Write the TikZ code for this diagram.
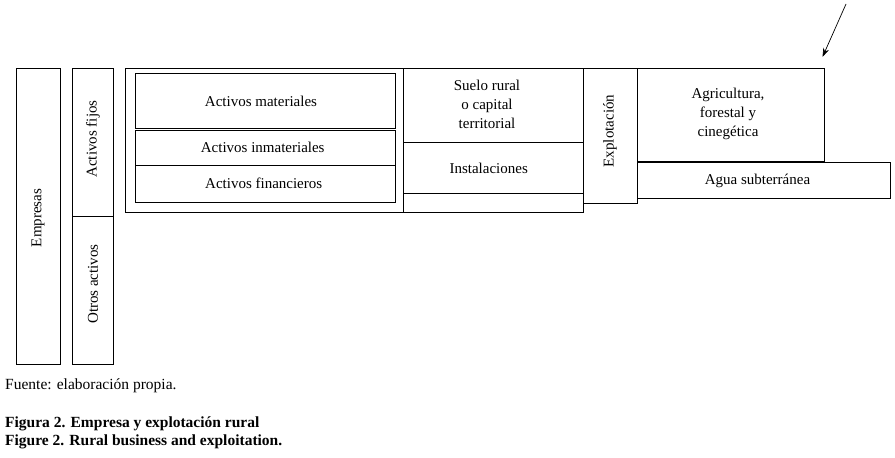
\documentclass[tikz,border=0pt]{standalone}
\usepackage{fontspec}
\setmainfont{Liberation Serif}
\usetikzlibrary{arrows.meta}
\begin{document}
\begin{tikzpicture}[x=1pt,y=-1pt,
  box/.style={draw=black, line width=0.9pt, inner sep=0pt, outer sep=0pt},
  txt/.style={inner sep=0pt, font=\fontsize{15}{19}\selectfont, align=center},
  vtxt/.style={txt, rotate=90},
  captxt/.style={inner sep=0pt, anchor=west, font=\fontsize{15.5}{18}\selectfont},
  capbold/.style={captxt, font=\fontsize{15.5}{18}\selectfont\bfseries}]
\useasboundingbox (0,0) rectangle (895,458);
% boxes
\node[box, minimum width=44.7, minimum height=296] (emp) at (38.3,216) {};
\node[box, minimum width=41, minimum height=148] (fijos) at (92.5,142) {};
\node[box, minimum width=41, minimum height=148] (otros) at (92.5,290) {};
\node[box, minimum width=458, minimum height=144.5] (outer) at (354,140.25) {};
\node[box, minimum width=260, minimum height=55] (mat) at (265,100.8) {};
\node[box, minimum width=260, minimum height=35.3] (inm) at (265,147.7) {};
\node[box, minimum width=260, minimum height=37] (fin) at (265,183.8) {};
\node[box, minimum width=180, minimum height=74] (suelo) at (493,105) {};
\node[box, minimum width=180, minimum height=51.3] (inst) at (493,167.7) {};
\node[box, minimum width=180, minimum height=19.2] (blank) at (493,202.9) {};
\node[box, minimum width=54.3, minimum height=135.3] (explot) at (610.2,135.7) {};
\node[box, minimum width=187, minimum height=93.7] (agri) at (730.8,114.8) {};
\node[box, minimum width=253, minimum height=35.7] (agua) at (763.8,180.2) {};
% labels
\node[vtxt] (tEmp) at (38,218) {Empresas};
\node[vtxt] (tFijos) at (93,139) {Activos fijos};
\node[vtxt] (tOtros) at (93,284) {Otros activos};
\node[vtxt] (tExpl) at (610,131) {Explotación};
\node[txt] (tMat) at (261,101.5) {Activos materiales};
\node[txt] (tInm) at (262.7,147.5) {Activos inmateriales};
\node[txt] (tFin) at (263.7,183.5) {Activos financieros};
\node[txt] (tSuelo) at (487,104.5) {Suelo rural\\o capital\\territorial};
\node[txt] (tInst) at (488.7,168) {Instalaciones};
\node[txt] (tAgri) at (728,114) {Agricultura,\\forestal y\\cinegética};
\node[txt] (tAgua) at (757.5,181) {Agua subterránea};
% arrow
\coordinate (aS) at (846,4);
\coordinate (aE) at (822.5,57);
\draw[line width=0.7pt, -{Stealth[length=9pt,width=6pt]}] (aS) -- (aE);
% captions
\node[captxt] (fuente) at (5,386) {Fuente: elaboración propia.};
\node[capbold] (fig1) at (5,424) {Figura 2. Empresa y explotación rural};
\node[capbold] (fig2) at (5,442) {Figure 2. Rural business and exploitation.};
\end{tikzpicture}
\end{document}
